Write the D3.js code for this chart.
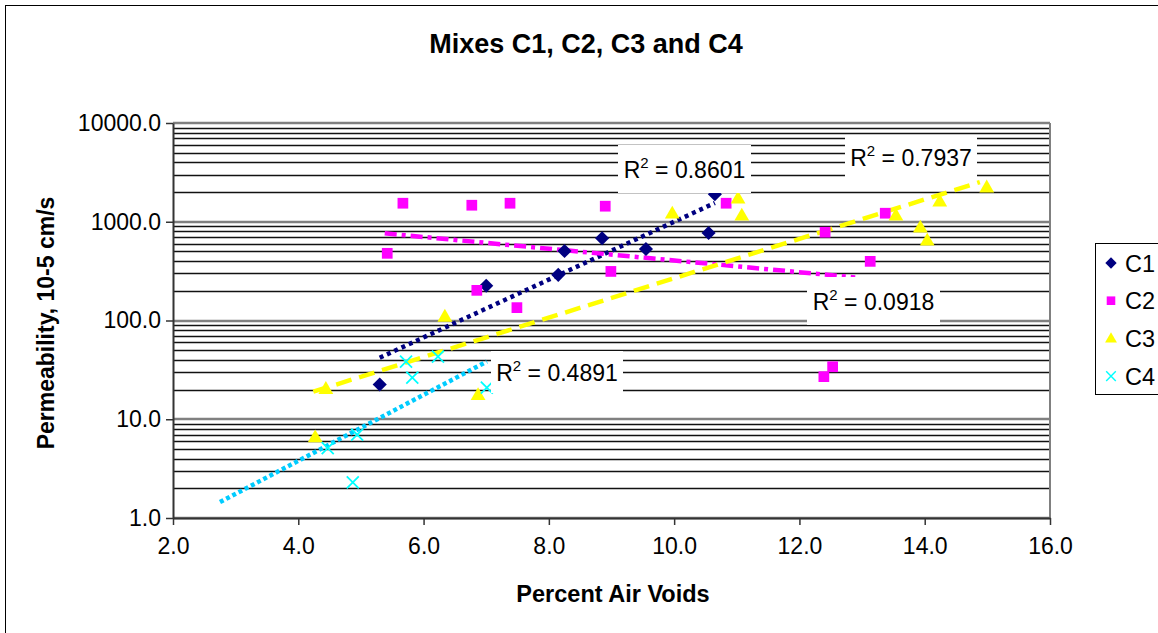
<!DOCTYPE html>
<html>
<head>
<meta charset="utf-8">
<script src="https://cdn.jsdelivr.net/npm/d3@7"></script>
<style>
  body { margin: 0; background: #fff; }
  text { font-family: Arial, 'Liberation Sans', sans-serif; }
</style>
</head>
<body>
<div id="chart"></div>
<script>
// Data: [percent air voids, permeability]
var c1 = [[5.3, 22.5], [7.0, 225], [8.15, 290], [8.25, 505], [8.85, 680], [9.55, 530], [10.55, 770], [10.65, 1900]]
var c2 = [[5.67, 1540], [6.77, 1470], [5.42, 479], [6.85, 202], [7.38, 1540], [8.9, 1437], [10.83, 1540],
  [8.99, 314], [7.49, 135], [13.37, 1220], [12.41, 783], [13.13, 397], [12.39, 27], [12.53, 34]]
var c3 = [[4.44, 20.4], [4.27, 6.6], [6.87, 17.7], [6.34, 110], [9.97, 1220], [11.02, 1730], [11.08, 1164],
  [13.54, 1164], [14.24, 1615], [14.99, 2240], [13.93, 880], [14.04, 649]]
var c4 = [[5.72, 38.4], [5.82, 26.4], [6.23, 43], [4.47, 5.1], [4.94, 7.0], [4.87, 2.3], [7.01, 20.9]]

// trendline end points (exponential fits, straight on a log axis)
var trend1 = [[5.3, 42], [10.65, 1550]]
var trend2 = [[5.38, 763], [12.89, 273]]
var trend3 = [[4.24, 19], [14.88, 2520]]
var trend4 = [[2.75, 1.45], [7.01, 38.4]]

var r2Labels = ['0.8601', '0.0918', '0.7937', '0.4891']
var seriesNames = ['C1', 'C2', 'C3', 'C4']
var xTicks = [2, 4, 6, 8, 10, 12, 14, 16]
var yTicks = [1, 10, 100, 1000, 10000]

var width = 1158
var height = 633
var plot = { left: 173, right: 1050, top: 123, bottom: 518 }

var svg = d3
  .select('#chart')
  .append('svg')
  .attr('width', width)
  .attr('height', height)

// outer chart border
svg
  .append('rect')
  .attr('x', 5.5)
  .attr('y', 5.5)
  .attr('width', width + 10)
  .attr('height', height + 10)
  .attr('fill', 'none')
  .attr('stroke', '#000')

var xPositionScale = d3.scaleLinear().domain([2, 16]).range([plot.left, plot.right])
var yPositionScale = d3.scaleLog().domain([1, 10000]).range([plot.bottom, plot.top])

// gridlines: minor ones first, majors on top
var minor = []
yTicks.slice(0, -1).forEach(function(d) {
  for (var k = 2; k < 10; k++) minor.push(d * k)
})

svg
  .selectAll('.minor')
  .data(minor)
  .enter()
  .append('line')
  .attr('class', 'minor')
  .attr('x1', plot.left)
  .attr('x2', plot.right)
  .attr('y1', d => Math.round(yPositionScale(d)) + 0.5)
  .attr('y2', d => Math.round(yPositionScale(d)) + 0.5)
  .attr('stroke', '#111')
  .attr('stroke-width', 1.3)

svg
  .selectAll('.major')
  .data(yTicks)
  .enter()
  .append('line')
  .attr('class', 'major')
  .attr('x1', plot.left)
  .attr('x2', plot.right)
  .attr('y1', d => Math.round(yPositionScale(d)))
  .attr('y2', d => Math.round(yPositionScale(d)))
  .attr('stroke', '#808080')
  .attr('stroke-width', 2.5)

// plot area border on the right is grey
svg
  .append('line')
  .attr('x1', plot.right)
  .attr('x2', plot.right)
  .attr('y1', plot.top)
  .attr('y2', plot.bottom)
  .attr('stroke', '#808080')
  .attr('stroke-width', 2)

// Axes
var xAxis = d3
  .axisBottom(xPositionScale)
  .tickValues(xTicks)
  .tickFormat(d3.format('.1f'))
  .tickSize(7)
  .tickSizeOuter(0)
svg
  .append('g')
  .attr('class', 'axis x-axis')
  .attr('transform', 'translate(0,' + plot.bottom + ')')
  .call(xAxis)

var yAxis = d3
  .axisLeft(yPositionScale)
  .tickValues(yTicks)
  .tickFormat(d3.format('.1f'))
  .tickSize(7)
  .tickSizeOuter(0)
svg
  .append('g')
  .attr('class', 'axis y-axis')
  .attr('transform', 'translate(' + plot.left + ',0)')
  .call(yAxis)

svg.selectAll('.axis path').attr('stroke', '#333').attr('stroke-width', 2)
svg.selectAll('.axis line').attr('stroke', '#333').attr('stroke-width', 1.5)
svg
  .selectAll('.axis text')
  .attr('font-family', "Arial, 'Liberation Sans', sans-serif")
  .attr('font-size', 23)
  .attr('fill', '#000')
svg.selectAll('.x-axis text').attr('dy', '1.15em')
svg.selectAll('.y-axis text').attr('x', -12)

// Trendlines
var line = d3
  .line()
  .x(d => xPositionScale(d[0]))
  .y(d => yPositionScale(d[1]))

var trends = [
  { data: trend1, color: '#000080', dash: '4,4' },
  { data: trend2, color: '#FF00FF', dash: '12,5,4,5' },
  { data: trend3, color: '#FFFF00', dash: '16,8' },
  { data: trend4, color: '#00CCFF', dash: '4,3' }
]
trends.forEach(function(t) {
  svg
    .append('path')
    .attr('d', line(t.data))
    .attr('stroke', t.color)
    .attr('stroke-width', 4.5)
    .attr('stroke-dasharray', t.dash)
    .attr('fill', 'none')
})

// Markers
var diamond = d3.symbol().type(d3.symbolSquare).size(100)
var square = d3.symbol().type(d3.symbolSquare).size(115)
var triangle = d3.symbol().type(d3.symbolTriangle).size(95)

function drawMarker(g, type, color) {
  if (type === 0) {
    g.append('path').attr('d', diamond()).attr('transform', 'rotate(45)').attr('fill', color)
  } else if (type === 1) {
    g.append('path').attr('d', square()).attr('fill', color)
  } else if (type === 2) {
    g.append('path').attr('d', triangle()).attr('transform', 'translate(0,1)').attr('fill', color)
  } else {
    g.append('path')
      .attr('d', 'M-6,-6L6,6M-6,6L6,-6')
      .attr('stroke', color)
      .attr('stroke-width', 1.8)
      .attr('fill', 'none')
  }
}

var colors = ['#000080', '#FF00FF', '#FFFF00', '#00FFFF']
var allSeries = [c1, c2, c3, c4]
allSeries.forEach(function(series, i) {
  svg
    .selectAll('.pt' + i)
    .data(series)
    .enter()
    .append('g')
    .attr('class', 'pt' + i)
    .attr('transform', d => 'translate(' + xPositionScale(d[0]) + ',' + yPositionScale(d[1]) + ')')
    .each(function() {
      drawMarker(d3.select(this), i, colors[i])
    })
})

// R^2 labels, boxes placed as in the picture
var r2Boxes = [
  { x: 618, y: 145, w: 133, h: 48 },
  { x: 807, y: 277, w: 133, h: 48 },
  { x: 845, y: 135, w: 132, h: 43 },
  { x: 491, y: 351, w: 132, h: 42 }
]
r2Labels.forEach(function(label, i) {
  var b = r2Boxes[i]
  svg
    .append('rect')
    .attr('x', b.x)
    .attr('y', b.y)
    .attr('width', b.w)
    .attr('height', b.h)
    .attr('fill', '#fff')
  var t = svg
    .append('text')
    .attr('x', b.x + b.w / 2)
    .attr('y', b.y + b.h / 2 + 9)
    .attr('text-anchor', 'middle')
    .attr('font-size', 23)
    .attr('fill', '#000')
  t.append('tspan').text('R')
  t.append('tspan').attr('dy', -10).attr('font-size', 15).text('2')
  t.append('tspan').attr('dy', 10).text(' = ' + label)
})

// Titles
svg
  .append('text')
  .attr('x', 586)
  .attr('y', 53)
  .attr('text-anchor', 'middle')
  .attr('font-size', 27)
  .attr('font-weight', 'bold')
  .text('Mixes C1, C2, C3 and C4')

svg
  .append('text')
  .attr('x', 613)
  .attr('y', 602)
  .attr('text-anchor', 'middle')
  .attr('font-size', 23.5)
  .attr('font-weight', 'bold')
  .text('Percent Air Voids')

svg
  .append('text')
  .attr('transform', 'translate(54,' + 323 + ') rotate(-90)')
  .attr('text-anchor', 'middle')
  .attr('font-size', 23)
  .attr('font-weight', 'bold')
  .text('Permeability, 10-5 cm/s')

// Legend
var legend = svg.append('g').attr('transform', 'translate(1095,243)')
legend
  .append('rect')
  .attr('x', 0.5)
  .attr('y', 0.5)
  .attr('width', 100)
  .attr('height', 151)
  .attr('fill', '#fff')
  .attr('stroke', '#000')

seriesNames.forEach(function(name, i) {
  var g = legend.append('g').attr('transform', 'translate(16,' + (20 + i * 37.7) + ')')
  var m = g.append('g').attr('transform', 'scale(0.8)')
  drawMarker(m, i, colors[i])
  g.append('text')
    .attr('x', 14)
    .attr('y', 8.5)
    .attr('font-size', 23.5)
    .attr('fill', '#000')
    .text(name)
})
</script>
</body>
</html>
